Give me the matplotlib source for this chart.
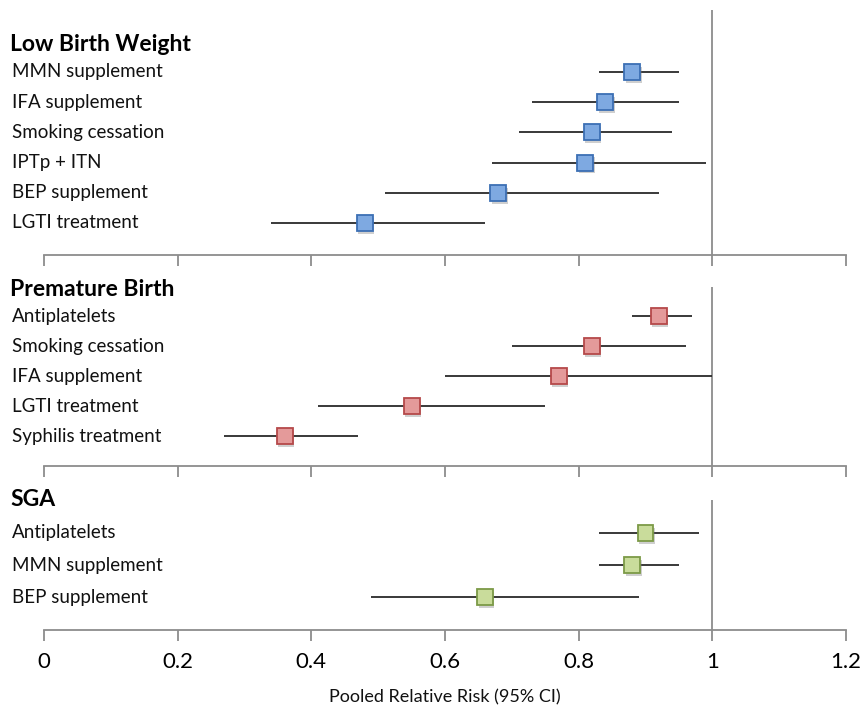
import matplotlib
matplotlib.use("Agg")
import matplotlib.pyplot as plt
import matplotlib.patheffects as pe
from matplotlib.transforms import blended_transform_factory

plt.rcParams['font.family'] = ['Lato', 'DejaVu Sans']

# --- data (pooled RR, lower CI, upper CI) ---
lbw_labels = ["MMN supplement", "IFA supplement", "Smoking cessation",
              "IPTp + ITN", "BEP supplement", "LGTI treatment"]
lbw_rr = [0.88, 0.84, 0.82, 0.81, 0.68, 0.48]
lbw_lo = [0.83, 0.73, 0.71, 0.67, 0.51, 0.34]
lbw_hi = [0.95, 0.95, 0.94, 0.99, 0.92, 0.66]

pb_labels = ["Antiplatelets", "Smoking cessation", "IFA supplement",
             "LGTI treatment", "Syphilis treatment"]
pb_rr = [0.92, 0.82, 0.77, 0.55, 0.36]
pb_lo = [0.88, 0.70, 0.60, 0.41, 0.27]
pb_hi = [0.97, 0.96, 1.00, 0.75, 0.47]

sga_labels = ["Antiplatelets", "MMN supplement", "BEP supplement"]
sga_rr = [0.90, 0.88, 0.66]
sga_lo = [0.83, 0.83, 0.49]
sga_hi = [0.98, 0.95, 0.89]

xticks = [0, 0.2, 0.4, 0.6, 0.8, 1.0, 1.2]
xtick_labels = ["0", "0.2", "0.4", "0.6", "0.8", "1", "1.2"]

W, H = 860, 711
fig = plt.figure(figsize=(W / 100, H / 100), dpi=100)
fig.patch.set_facecolor("white")

GRAY = "#8c8c8c"
x_left, x_right = 44 / W, 846 / W


def panel(top_px, bot_px, ylim, title, title_y, labels, rr, lo, hi,
          face, edge, show_ticks=False):
    ax = fig.add_axes([x_left, 1 - bot_px / H, x_right - x_left,
                       (bot_px - top_px) / H])
    ax.set_xlim(0, 1.2)
    ax.set_ylim(*ylim)
    for s in ("left", "top", "right"):
        ax.spines[s].set_visible(False)
    ax.spines["bottom"].set_color(GRAY)
    ax.spines["bottom"].set_linewidth(1.3)
    ax.set_yticks([])
    ax.set_xticks(xticks)
    ax.tick_params(axis="x", direction="out", length=8, width=1.3,
                   color=GRAY, labelsize=16, pad=8)
    if show_ticks:
        ax.set_xticklabels(xtick_labels)
    else:
        ax.set_xticklabels([])
    ax.axvline(1.0, color=GRAY, lw=1.3, zorder=1)

    ys = list(range(len(labels)))
    ax.hlines(ys, lo, hi, color="#2a2a2a", lw=1.3, zorder=2)
    ax.plot(rr, ys, ls="none", marker="s", ms=11.5, mfc=face, mec=edge,
            mew=1.3, zorder=3,
            path_effects=[pe.SimplePatchShadow(offset=(1, -2),
                                               shadow_rgbFace="#777777",
                                               alpha=0.35),
                          pe.Normal()])

    tr = blended_transform_factory(fig.transFigure, ax.transData)
    for y, lab in zip(ys, labels):
        ax.text(12 / W, y, lab, transform=tr, ha="left", va="center",
                fontsize=13.5, color="#111111")
    ax.text(10 / W, title_y, title, transform=tr, ha="left", va="center",
            fontsize=16.5, fontweight="bold", color="#000000")
    return ax


panel(10, 255, (6.06, -2.05), "Low Birth Weight", -0.9,
      lbw_labels, lbw_rr, lbw_lo, lbw_hi, "#7ea9e1", "#3c6fb4")
panel(287, 466, (5.0, -0.97), "Premature Birth", -0.87,
      pb_labels, pb_rr, pb_lo, pb_hi, "#e49a9a", "#b5494a")
ax3 = panel(500, 630, (3.03, -1.03), "SGA", -1.03,
            sga_labels, sga_rr, sga_lo, sga_hi, "#c9dc9b", "#7c9a47",
            show_ticks=True)
ax3.set_xlabel("Pooled Relative Risk (95% CI)", fontsize=13, labelpad=12,
               color="#111111")

fig.savefig("out.png", dpi=100, facecolor="white")
